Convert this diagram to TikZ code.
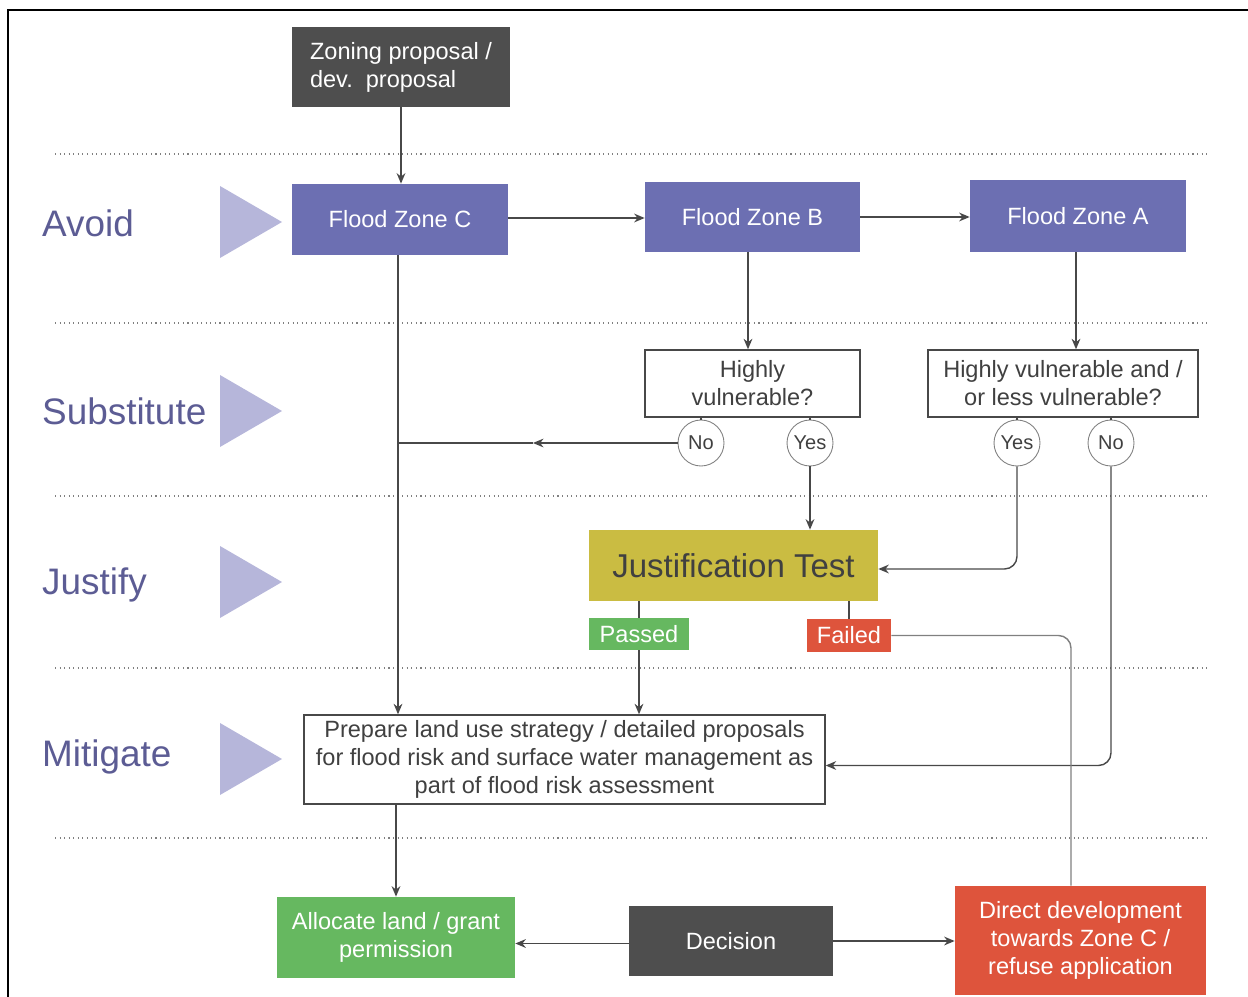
\documentclass[tikz,border=0pt]{standalone}
\usepackage{fontspec}
\setmainfont{Liberation Sans}
\usetikzlibrary{arrows.meta}

\definecolor{zoneblue}{RGB}{108,111,178}
\definecolor{steptri}{RGB}{182,182,218}
\definecolor{steptext}{RGB}{92,92,148}
\definecolor{darkfill}{RGB}{78,78,78}
\definecolor{testyellow}{RGB}{202,188,66}
\definecolor{passgreen}{RGB}{102,184,96}
\definecolor{failred}{RGB}{222,84,60}
\definecolor{linegray}{RGB}{72,72,72}
\definecolor{textgray}{RGB}{64,64,64}

\newcommand{\boxfont}{\fontsize{13.4}{15.9}\selectfont}
\newcommand{\stepfont}{\fontsize{21}{24}\selectfont}
\newcommand{\testfont}{\fontsize{18.8}{22}\selectfont}
\newcommand{\answerfont}{\fontsize{11.4}{13}\selectfont}

\begin{document}
\begin{tikzpicture}[x=0.02cm,y=-0.02cm,>={Stealth[length=6pt,width=5pt]},
    zonebox/.style={fill=zoneblue,text=white,font=\boxfont,inner sep=0pt},
    darkbox/.style={fill=darkfill,text=white,font=\boxfont,inner sep=0pt},
    question/.style={draw=linegray,line width=0.8pt,fill=white,text=textgray,font=\boxfont,align=center,inner sep=0pt},
    answer/.style={circle,draw=gray,line width=0.5pt,fill=white,text=textgray,font=\answerfont,minimum size=0.92cm,inner sep=0pt},
    tagbox/.style={text=white,font=\boxfont,inner sep=0pt},
    steplabel/.style={anchor=west,text=steptext,font=\stepfont},
    flow/.style={draw=linegray,line width=0.8pt},
    sepline/.style={draw=gray,dotted,line width=0.6pt}]

        \useasboundingbox (0,0) rectangle (1248,997);
        \draw [line width=1.7pt] (8,997) -- (8,10) -- (1248,10);

        % separators
        \draw [sepline] (55,154) -- (1210,154);
        \draw [sepline] (55,323) -- (1210,323);
        \draw [sepline] (55,496) -- (1210,496);
        \draw [sepline] (55,668) -- (1210,668);
        \draw [sepline] (55,838) -- (1210,838);

        % steps
        \node [steplabel] (avoid) at (36,223) {Avoid};
        \node [steplabel] (subst) at (36,411) {Substitute};
        \node [steplabel] (justify) at (36,585) {Justify};
        \node [steplabel] (mitigate) at (36,757) {Mitigate};

        \fill [steptri] (220,186) -- (282,222) -- (220,258) -- cycle;
        \fill [steptri] (220,375) -- (282,411) -- (220,447) -- cycle;
        \fill [steptri] (220,546) -- (282,582) -- (220,618) -- cycle;
        \fill [steptri] (220,723) -- (282,759) -- (220,795) -- cycle;

        % nodes
        \node [darkbox,minimum width=4.36cm,minimum height=1.6cm,align=left] (zoning) at (401,67) {Zoning proposal /\\dev.\ \ proposal};

        \node [zonebox,minimum width=4.32cm,minimum height=1.42cm] (fzc) at (400,219.5) {Flood Zone C};
        \node [zonebox,minimum width=4.3cm,minimum height=1.4cm] (fzb) at (752.5,217) {Flood Zone B};
        \node [zonebox,minimum width=4.32cm,minimum height=1.44cm] (fza) at (1078,216) {Flood Zone A};

        \node [question,minimum width=4.3cm,minimum height=1.34cm] (hv) at (752.5,383.5) {Highly\\vulnerable?};
        \node [question,minimum width=5.4cm,minimum height=1.34cm] (hvl) at (1063,383.5) {Highly vulnerable and /\\or less vulnerable?};

        \node [answer] (no1) at (701,443) {No};
        \node [answer] (yes1) at (810,443) {Yes};
        \node [answer] (yes2) at (1017,443) {Yes};
        \node [answer] (no2) at (1111,443) {No};

        \node [fill=testyellow,text=textgray,font=\testfont,minimum width=5.78cm,minimum height=1.42cm] (jt) at (733.5,565.5) {Justification Test};
        \node [tagbox,fill=passgreen,minimum width=2cm,minimum height=0.64cm] (passed) at (639,634) {Passed};
        \node [tagbox,fill=failred,minimum width=1.68cm,minimum height=0.66cm] (failed) at (849,635.5) {Failed};

        \node [question,minimum width=10.42cm,minimum height=1.78cm] (prep) at (564.5,759.5) {Prepare land use strategy / detailed proposals\\for flood risk and surface water management as\\part of flood risk assessment};

        \node [tagbox,fill=passgreen,align=center,minimum width=4.76cm,minimum height=1.62cm] (alloc) at (396,937.5) {Allocate land / grant\\permission};
        \node [darkbox,minimum width=4.08cm,minimum height=1.4cm] (decision) at (731,941) {Decision};
        \node [tagbox,fill=failred,align=center,minimum width=5.02cm,minimum height=2.18cm] (direct) at (1080.5,940.5) {Direct development\\towards Zone C /\\refuse application};

        \coordinate (nomid) at (533,443);
        \coordinate (join) at (398,443);

        % arrows
        \draw [flow,->] (zoning) -- (zoning |- fzc.north);
        \draw [flow,->] ([yshift=0.03cm]fzc.east) -- ([yshift=0.03cm]fzc.east -| fzb.west);
        \draw [flow,->] (fzb.east) -- (fzb.east -| fza.west);
        \draw [flow,->] (fzb.south -| 748,0) -- (hv.north -| 748,0);
        \draw [flow,->] (fza.south -| 1076,0) -- (hvl.north -| 1076,0);

        \draw [flow] (no1.north |- hv.south) -- (no1);
        \draw [flow] (yes1.north |- hv.south) -- (yes1);
        \draw [flow] (yes2.north |- hvl.south) -- (yes2);
        \draw [flow] (no2.north |- hvl.south) -- (no2);

        \draw [flow,->] (no1) -- (nomid);
        \draw [flow] (nomid) -- (join);
        \draw [flow,->] (yes1) -- (yes1 |- jt.north);
        \draw [flow,->,rounded corners=0.25cm] (yes2) |- ([yshift=-0.07cm]jt.east);
        \draw [flow,->,rounded corners=0.25cm] (no2) |- ([yshift=-0.12cm]prep.east);

        \draw [flow] (passed.north |- jt.south) -- (passed);
        \draw [flow] (failed.north |- jt.south) -- (failed);
        \draw [flow,draw=gray,rounded corners=0.25cm] (failed) -| ([xshift=-0.19cm]direct.north);

        \draw [flow,->] (fzc.south -| join) -- (prep.north -| join);
        \draw [flow,->] (passed) -- (passed |- prep.north);
        \draw [flow,->] (prep.south -| alloc) -- (alloc);

        \draw [flow,->] ([yshift=-0.05cm]decision.west) -- ([yshift=-0.05cm]decision.west -| alloc.east);
        \draw [flow,->] (decision.east) -- (decision.east -| direct.west);
    \end{tikzpicture}
\end{document}
